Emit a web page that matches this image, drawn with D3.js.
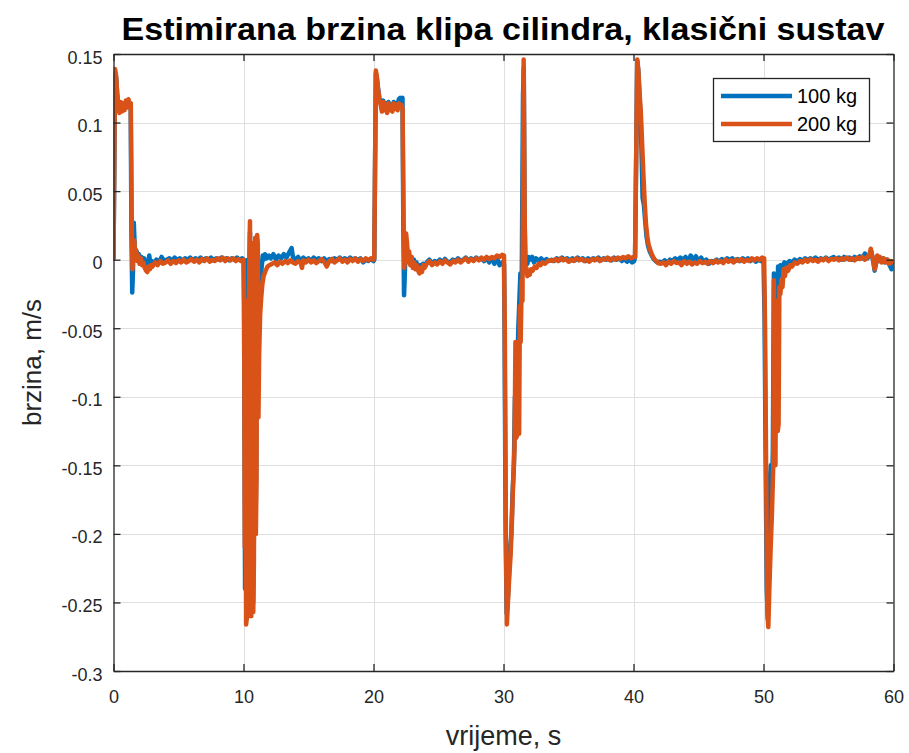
<!DOCTYPE html>
<html>
<head>
<meta charset="utf-8">
<script src="https://cdn.jsdelivr.net/npm/d3@7"></script>
<style>
  html, body { margin: 0; padding: 0; background: #ffffff; }
  svg { display: block; }
  text { font-family: "Liberation Sans", Arial, Helvetica, sans-serif; }
</style>
</head>
<body>
<svg id="chart" width="909" height="753"></svg>
<script>
// ---------------- data ----------------
const titleText = "Estimirana brzina klipa cilindra, klasični sustav";
const xLabelText = "vrijeme, s";
const yLabelText = "brzina, m/s";
const seriesNames = ["100 kg", "200 kg"];
const xTicks = [0, 10, 20, 30, 40, 50, 60];
const xTickLabels = ["0", "10", "20", "30", "40", "50", "60"];
const yTicks = [-0.3, -0.25, -0.2, -0.15, -0.1, -0.05, 0, 0.05, 0.1, 0.15];
const yTickLabels = ["-0.3", "-0.25", "-0.2", "-0.15", "-0.1", "-0.05", "0", "0.05", "0.1", "0.15"];

// [time s, speed m/s] — 100 kg
const speed100 = [
[0,0.001],[0.06,0.065],[0.12,0.135],[0.2,0.133],[0.28,0.121],[0.36,0.113],[0.45,0.109],[0.55,0.113],[0.65,0.11],[0.75,0.113],[0.85,0.11],[0.95,0.114],[1.05,0.112],[1.15,0.116],[1.25,0.113],[1.32,0.114],[1.38,0.02],[1.44,-0.024],[1.5,-0.008],[1.56,0.027],[1.63,0.01],[1.7,0.004],[1.78,0.006],[1.86,0.001],[1.95,0.004],[2.05,0.0],[2.15,0.002],[2.25,-0.002],[2.35,0.001],[2.45,-0.003],[2.55,-0.005],[2.65,-0.003],[2.75,0.003],[2.85,-0.004],[2.95,-0.001],
[3.1,-0.003],[3.3,0.0],[3.5,-0.002],[3.7,0.002],[3.9,-0.001],[4.1,0.0],[4.3,0.001],[4.5,-0.001],[4.7,0.0015],[4.9,-0.0005],[5.1,0.001],[5.3,-0.001],[5.5,0.001],[5.7,0.0],[5.9,0.0015],[6.1,-0.0005],[6.3,0.001],[6.5,0.0],[6.7,0.0015],[6.9,-0.0005],[7.1,0.001],[7.3,0.0],[7.5,0.0015],[7.7,-0.0005],[7.9,0.001],[8.1,0.0],[8.3,0.0015],[8.5,0.0],[8.7,0.001],[8.9,-0.0005],[9.1,0.001],[9.3,0.0],[9.5,0.0015],[9.7,0.0],[9.9,0.001],
[10.02,0.0],[10.07,-0.1],[10.12,-0.24],[10.18,-0.03],[10.22,-0.262],[10.28,-0.2],[10.33,0.0],[10.38,-0.26],[10.44,-0.1],[10.5,0.02],[10.56,-0.255],[10.62,-0.25],[10.68,0.005],[10.74,-0.25],[10.8,-0.2],[10.86,0.005],[10.92,-0.2],[10.98,-0.15],[11.04,0.01],[11.1,-0.09],[11.16,-0.06],[11.24,-0.035],[11.32,-0.015],[11.4,-0.005],[11.48,0.003],[11.56,0.0],[11.65,0.004],[11.8,0.001],[11.95,0.003],
[12.1,0.001],[12.3,0.004],[12.5,0.0],[12.7,0.003],[12.9,0.001],[13.1,0.004],[13.3,0.0015],[13.5,0.005],[13.7,0.0085],[13.8,0.002],[14.0,0.0],[14.2,0.002],[14.4,-0.001],[14.6,0.0015],[14.8,-0.0005],[15.0,0.001],[15.2,-0.001],[15.4,0.0015],[15.6,0.0],[15.8,0.001],[16.0,-0.001],[16.2,0.001],[16.4,-0.0015],[16.6,0.0005],[16.8,-0.001],[17.0,0.001],[17.2,-0.0005],[17.4,0.0015],[17.6,0.0],[17.8,0.001],[18.0,-0.0005],[18.2,0.0015],[18.4,0.0],[18.6,0.001],[18.8,-0.0005],[19.0,0.001],[19.2,-0.002],[19.4,0.0],[19.6,-0.001],[19.8,0.0005],[20.0,-0.001],
[20.06,0.0],[20.12,0.068],[20.18,0.136],[20.25,0.133],[20.35,0.125],[20.45,0.118],[20.55,0.115],[20.65,0.11],[20.75,0.116],[20.85,0.111],[20.95,0.114],[21.05,0.109],[21.15,0.115],[21.25,0.111],[21.35,0.113],[21.45,0.11],[21.55,0.115],[21.65,0.112],[21.75,0.114],[21.85,0.113],[21.95,0.117],[22.05,0.118],[22.15,0.116],[22.23,0.118],[22.29,0.03],[22.35,-0.026],[22.41,-0.01],[22.48,0.012],[22.56,0.01],[22.64,0.0],[22.72,0.004],[22.81,-0.003],[22.91,0.002],[23.01,-0.004],[23.11,0.0],[23.21,-0.005],[23.31,-0.002],[23.41,-0.006],[23.51,-0.007],[23.61,-0.004],[23.71,-0.007],[23.81,-0.003],[23.91,-0.004],
[24.1,-0.002],[24.3,0.0],[24.5,-0.003],[24.7,-0.001],[24.9,-0.002],[25.1,0.0],[25.3,-0.002],[25.5,0.0005],[25.7,-0.0015],[25.9,-0.002],[26.1,0.0],[26.3,-0.001],[26.5,0.001],[26.7,-0.001],[26.9,0.0],[27.1,0.0015],[27.3,-0.001],[27.5,0.001],[27.7,-0.0005],[27.9,0.0015],[28.1,0.0],[28.3,0.001],[28.5,-0.001],[28.7,0.0015],[28.9,-0.002],[29.1,0.001],[29.3,-0.003],[29.5,0.001],[29.7,-0.004],[29.9,-0.002],[30.04,-0.003],
[30.08,-0.05],[30.16,-0.19],[30.24,-0.258],[30.32,-0.25],[30.42,-0.23],[30.52,-0.21],[30.6,-0.2],[30.7,-0.17],[30.8,-0.15],[30.88,-0.1],[30.96,-0.125],[31.05,-0.09],[31.14,-0.05],[31.22,-0.03],[31.3,-0.01],[31.4,-0.02],[31.5,0.12],[31.56,0.14],[31.62,0.03],[31.68,0.002],[31.76,0.002],[31.84,-0.003],[31.92,0.002],[32.05,0.0],[32.2,0.002],[32.35,-0.002],[32.5,0.001],[32.7,-0.001],[32.9,0.001],[33.1,-0.0015],[33.3,0.0005],[33.5,-0.001],
[33.7,0.0],[33.9,-0.001],[34.1,0.001],[34.3,-0.0005],[34.5,0.0015],[34.7,0.0],[34.9,0.001],[35.1,-0.001],[35.3,0.001],[35.5,-0.0005],[35.7,0.0015],[35.9,0.0],[36.1,0.001],[36.3,-0.001],[36.5,0.001],[36.7,-0.0005],[36.9,0.001],[37.1,0.0],[37.3,0.0015],[37.5,-0.0005],[37.7,0.001],[37.9,0.0],[38.1,0.001],[38.3,-0.0005],[38.5,0.0015],[38.7,0.0],[38.9,0.001],[39.1,-0.001],[39.3,0.0005],[39.5,-0.0015],[39.7,0.0],[39.9,-0.002],[40.05,-0.001],
[40.12,0.002],[40.2,0.07],[40.29,0.145],[40.37,0.138],[40.46,0.12],[40.56,0.1],[40.64,0.07],[40.7,0.045],[40.8,0.04],[40.9,0.028],[41.0,0.017],[41.12,0.01],[41.25,0.006],[41.4,0.003],[41.55,0.0005],[41.7,-0.001],[41.85,-0.002],[42.0,-0.0015],
[42.2,-0.002],[42.4,-0.0005],[42.6,-0.0025],[42.8,0.0],[43.0,-0.001],[43.2,0.001],[43.4,-0.0005],[43.6,0.0015],[43.8,0.0],[44.0,0.002],[44.2,-0.001],[44.4,0.003],[44.6,0.0],[44.8,0.0025],[45.0,-0.001],[45.2,0.0015],[45.4,-0.002],[45.6,0.0],[45.8,-0.003],[46.0,-0.001],[46.2,-0.002],[46.4,0.0],[46.6,-0.0015],[46.8,0.0005],[47.0,-0.001],[47.2,0.001],[47.4,-0.0005],[47.6,0.001],[47.8,-0.001],[48.0,0.0005],[48.2,-0.001],[48.4,0.001],[48.6,-0.0005],[48.8,0.001],[49.0,-0.001],[49.2,0.0005],[49.4,-0.0015],[49.6,0.0],[49.8,-0.001],[50.0,0.0],
[50.08,-0.04],[50.16,-0.14],[50.25,-0.24],[50.33,-0.262],[50.42,-0.22],[50.5,-0.16],[50.56,-0.15],[50.64,-0.17],[50.72,-0.14],[50.8,-0.01],[50.88,-0.1],[50.95,-0.05],[51.05,-0.06],[51.12,-0.005],[51.2,-0.012],[51.3,-0.004],[51.45,-0.006],[51.6,-0.002],[51.8,-0.003],[52.0,-0.001],
[52.2,-0.002],[52.4,0.0],[52.6,-0.0015],[52.8,0.0005],[53.0,-0.001],[53.2,0.001],[53.4,-0.0005],[53.6,0.001],[53.8,0.0],[54.0,0.0015],[54.2,-0.0005],[54.4,0.001],[54.6,0.0],[54.8,0.0015],[55.0,0.0],[55.2,0.001],[55.4,0.002],[55.6,0.0005],[55.8,0.0015],[56.0,0.0],[56.2,0.002],[56.4,0.0005],[56.6,0.0015],[56.8,0.0],[57.0,0.002],[57.2,0.0005],[57.4,0.0025],[57.6,0.001],[57.8,0.0045],[58.0,0.001],[58.15,0.003],[58.3,0.006],[58.45,-0.002],[58.55,-0.008],[58.65,-0.003],[58.8,0.002],[58.95,-0.001],[59.1,0.001],[59.3,-0.002],[59.5,0.0],[59.7,-0.004],[59.85,-0.007],[60.0,-0.004]
];

// [time s, speed m/s] — 200 kg
const speed200 = [
[0,0.001],[0.06,0.07],[0.12,0.139],[0.2,0.134],[0.28,0.122],[0.36,0.112],[0.45,0.107],[0.55,0.115],[0.65,0.108],[0.75,0.114],[0.85,0.109],[0.95,0.116],[1.05,0.111],[1.15,0.117],[1.25,0.112],[1.33,0.114],[1.4,0.03],[1.46,-0.007],[1.53,0.006],[1.6,0.014],[1.67,0.003],[1.74,0.007],[1.82,-0.001],[1.9,0.003],[2.0,-0.003],[2.1,0.001],[2.2,-0.004],[2.3,-0.002],[2.4,-0.006],[2.5,-0.008],[2.6,-0.009],[2.7,-0.005],[2.8,-0.007],[2.9,-0.004],
[3.0,-0.005],[3.2,-0.002],[3.4,-0.004],[3.6,-0.001],[3.8,-0.003],[4.0,-0.002],[4.2,-0.0005],[4.4,-0.003],[4.6,-0.001],[4.8,-0.0025],[5.0,-0.0005],[5.2,-0.002],[5.4,0.0],[5.6,-0.002],[5.8,-0.001],[6.0,0.0005],[6.2,-0.0015],[6.4,0.0],[6.6,-0.002],[6.8,0.0005],[7.0,-0.001],[7.2,0.001],[7.4,-0.0015],[7.6,0.0],[7.8,-0.001],[8.0,0.001],[8.2,-0.0005],[8.4,0.0015],[8.6,-0.001],[8.8,0.001],[9.0,-0.0005],[9.2,0.001],[9.4,-0.001],[9.6,0.0005],[9.8,-0.001],
[10.0,0.0],[10.05,-0.03],[10.1,-0.21],[10.15,-0.04],[10.2,-0.266],[10.25,-0.262],[10.3,-0.03],[10.35,-0.25],[10.4,-0.12],[10.45,0.005],[10.5,0.028],[10.55,-0.258],[10.6,-0.26],[10.65,-0.06],[10.7,0.012],[10.75,-0.257],[10.8,-0.22],[10.85,-0.01],[10.9,0.016],[10.95,-0.2],[11.0,-0.16],[11.05,0.018],[11.1,0.012],[11.15,-0.115],[11.2,-0.07],[11.28,-0.04],[11.36,-0.028],[11.45,-0.018],[11.55,-0.012],[11.7,-0.008],[11.85,-0.005],[12.0,-0.004],
[12.2,-0.003],[12.4,-0.002],[12.6,-0.004],[12.8,-0.0015],[13.0,-0.003],[13.2,-0.001],[13.4,-0.0025],[13.6,-0.0005],[13.8,-0.002],[14.0,-0.003],[14.2,-0.001],[14.4,-0.0025],[14.5,-0.006],[14.6,-0.0005],[14.8,-0.002],[15.0,0.0],[15.2,-0.002],[15.4,-0.0005],[15.6,-0.0025],[15.8,-0.001],[16.0,0.0005],[16.2,-0.0015],[16.4,-0.005],[16.6,-0.001],[16.8,0.0005],[17.0,-0.002],[17.2,-0.0005],[17.4,0.001],[17.6,-0.0015],[17.8,0.0],[18.0,-0.002],[18.2,0.0005],[18.4,-0.001],[18.6,0.001],[18.8,-0.0015],[19.0,0.0005],[19.2,-0.001],[19.4,0.001],[19.6,-0.0005],[19.8,0.001],[20.0,0.0],
[20.06,0.001],[20.12,0.07],[20.18,0.138],[20.25,0.134],[20.35,0.124],[20.45,0.117],[20.55,0.113],[20.65,0.108],[20.75,0.115],[20.85,0.109],[20.95,0.113],[21.05,0.107],[21.15,0.114],[21.25,0.109],[21.35,0.112],[21.45,0.108],[21.55,0.114],[21.65,0.11],[21.75,0.113],[21.85,0.109],[21.95,0.114],[22.05,0.111],[22.15,0.113],[22.24,0.11],[22.31,0.03],[22.37,-0.006],[22.44,0.008],[22.51,0.019],[22.58,0.012],[22.66,-0.002],[22.74,0.006],[22.83,-0.004],[22.93,0.002],[23.03,-0.006],[23.13,-0.002],[23.23,-0.007],[23.33,-0.004],[23.43,-0.008],[23.53,-0.01],[23.63,-0.006],[23.73,-0.009],[23.83,-0.004],[23.93,-0.006],
[24.1,-0.003],[24.3,-0.001],[24.5,-0.004],[24.7,-0.002],[24.9,-0.0035],[25.1,-0.001],[25.3,-0.003],[25.5,-0.0005],[25.7,-0.002],[25.9,-0.0035],[26.1,-0.001],[26.3,-0.002],[26.5,0.0],[26.7,-0.002],[26.9,-0.0005],[27.1,0.001],[27.3,-0.0015],[27.5,0.0005],[27.7,-0.001],[27.9,0.001],[28.1,-0.0005],[28.3,0.0015],[28.5,0.0],[28.7,0.002],[28.9,0.0005],[29.1,0.002],[29.3,0.001],[29.5,0.003],[29.7,0.002],[29.9,0.0035],[30.04,0.003],
[30.1,-0.05],[30.18,-0.2],[30.26,-0.266],[30.34,-0.25],[30.45,-0.23],[30.55,-0.215],[30.65,-0.19],[30.75,-0.16],[30.85,-0.137],[30.92,-0.06],[30.98,-0.13],[31.05,-0.128],[31.12,-0.06],[31.2,-0.127],[31.26,-0.034],[31.32,-0.06],[31.4,-0.015],[31.46,-0.03],[31.55,0.146],[31.62,0.04],[31.68,-0.009],[31.76,-0.006],[31.84,-0.012],[31.93,-0.009],[32.02,-0.011],[32.12,-0.007],[32.25,-0.008],[32.4,-0.005],[32.55,-0.006],[32.7,-0.003],[32.85,-0.004],[33.0,-0.002],[33.2,-0.003],[33.4,-0.001],[33.6,-0.0005],
[33.8,-0.001],[34.0,0.0005],[34.2,-0.001],[34.4,0.001],[34.6,-0.0005],[34.8,0.0005],[35.0,-0.0015],[35.2,0.0],[35.4,-0.001],[35.6,0.001],[35.8,-0.0005],[36.0,0.0005],[36.2,-0.001],[36.4,0.0],[36.6,-0.0015],[36.8,0.0005],[37.0,-0.0005],[37.2,0.001],[37.4,-0.001],[37.6,0.0005],[37.8,0.0],[38.0,0.0015],[38.2,-0.0005],[38.4,0.001],[38.6,0.0],[38.8,0.0015],[39.0,0.0005],[39.2,0.002],[39.4,0.001],[39.6,0.0025],[39.8,0.001],[40.0,0.002],
[40.12,0.002],[40.2,0.07],[40.29,0.146],[40.37,0.138],[40.46,0.122],[40.56,0.108],[40.66,0.085],[40.76,0.062],[40.86,0.042],[40.96,0.026],[41.06,0.017],[41.16,0.011],[41.26,0.008],[41.36,0.005],[41.46,0.003],[41.6,0.0005],[41.75,-0.001],[41.9,-0.0025],
[42.1,-0.003],[42.3,-0.002],[42.5,-0.004],[42.7,-0.0015],[42.9,-0.003],[43.1,-0.001],[43.3,-0.0025],[43.5,-0.002],[43.7,-0.004],[43.9,-0.001],[44.1,-0.003],[44.3,-0.0015],[44.5,-0.0035],[44.7,-0.002],[44.9,-0.003],[45.1,-0.001],[45.3,-0.0025],[45.5,-0.0015],[45.7,-0.003],[45.9,-0.001],[46.1,-0.0025],[46.3,-0.0005],[46.5,-0.002],[46.7,-0.001],[46.9,-0.0025],[47.1,0.0],[47.3,-0.0015],[47.5,-0.0005],[47.7,-0.002],[47.9,0.0],[48.1,-0.001],[48.3,0.0005],[48.5,-0.0015],[48.7,0.0],[48.9,-0.001],[49.1,0.001],[49.3,-0.0005],[49.5,0.001],[49.7,0.0],[49.9,0.0015],[50.05,0.001],
[50.12,-0.05],[50.2,-0.15],[50.29,-0.255],[50.37,-0.268],[50.45,-0.24],[50.55,-0.21],[50.65,-0.185],[50.75,-0.15],[50.8,-0.015],[50.86,-0.14],[50.92,-0.15],[50.98,-0.03],[51.04,-0.1],[51.1,-0.125],[51.16,-0.12],[51.22,-0.02],[51.3,-0.025],[51.38,-0.015],[51.46,-0.02],[51.55,-0.007],[51.65,-0.012],[51.75,-0.006],[51.9,-0.008],[52.05,-0.004],[52.2,-0.005],[52.4,-0.002],
[52.6,-0.003],[52.8,-0.001],[53.0,-0.002],[53.2,0.0],[53.4,-0.0015],[53.6,0.0005],[53.8,-0.001],[54.0,0.0],[54.2,-0.0015],[54.4,0.0005],[54.6,-0.0005],[54.8,0.001],[55.0,-0.001],[55.2,0.0005],[55.4,0.0],[55.6,0.001],[55.8,-0.0005],[56.0,0.001],[56.2,0.0],[56.4,0.0015],[56.6,0.0],[56.8,0.001],[57.0,-0.0005],[57.2,0.0015],[57.4,0.0005],[57.6,0.002],[57.8,0.0],[58.0,0.002],[58.15,0.004],[58.25,0.008],[58.35,0.003],[58.45,-0.001],[58.55,-0.007],[58.65,-0.002],[58.75,0.003],[58.85,-0.001],[58.95,0.002],[59.1,-0.002],[59.25,0.001],[59.4,-0.002],[59.55,0.0],[59.7,-0.003],[59.85,-0.001],[60.0,-0.002]
];

const seriesColors = ["#0072BD", "#D95319"];

// ---------------- drawing ----------------
const svg = d3.select("#chart");
const plot = { left: 113.5, right: 893.5, top: 54, bottom: 671 };
const axisColor = "#262626";

const x = d3.scaleLinear().domain([0, 60]).range([plot.left, plot.right]);
const y = d3.scaleLinear().domain([-0.3, 0.15]).range([plot.bottom, plot.top]);

svg.append("rect").attr("x", 0).attr("y", 0).attr("width", 909).attr("height", 753).attr("fill", "#ffffff");

// grid
const grid = svg.append("g").attr("stroke", "#dfdfdf").attr("stroke-width", 1);
grid.selectAll("line.gx").data(xTicks.slice(1, -1)).join("line")
  .attr("x1", d => Math.round(x(d)) + 0.5).attr("x2", d => Math.round(x(d)) + 0.5)
  .attr("y1", plot.top).attr("y2", plot.bottom);
grid.selectAll("line.gy").data(yTicks.slice(1, -1)).join("line")
  .attr("y1", d => Math.round(y(d)) + 0.5).attr("y2", d => Math.round(y(d)) + 0.5)
  .attr("x1", plot.left).attr("x2", plot.right);

// clip
svg.append("clipPath").attr("id", "clip").append("rect")
  .attr("x", plot.left).attr("y", plot.top)
  .attr("width", plot.right - plot.left).attr("height", plot.bottom - plot.top);

const line = d3.line().x(d => x(d[0])).y(d => y(d[1]));
const lines = svg.append("g").attr("clip-path", "url(#clip)");
[speed100, speed200].forEach((s, i) => {
  lines.append("path").datum(s)
    .attr("fill", "none").attr("stroke", seriesColors[i])
    .attr("stroke-width", 4.5).attr("stroke-linejoin", "round").attr("stroke-linecap", "round")
    .attr("d", line);
});

// axes (MATLAB style box, ticks inside)
const axB = d3.axisBottom(x).tickValues(xTicks).tickFormat((d, i) => xTickLabels[i]).tickSizeInner(-7).tickSizeOuter(0).tickPadding(19);
const axT = d3.axisTop(x).tickValues(xTicks).tickFormat("").tickSizeInner(-7).tickSizeOuter(0);
const axL = d3.axisLeft(y).tickValues(yTicks).tickFormat((d, i) => yTickLabels[i]).tickSizeInner(-7).tickSizeOuter(0).tickPadding(11);
const axR = d3.axisRight(y).tickValues(yTicks).tickFormat("").tickSizeInner(-7).tickSizeOuter(0);

function styleAxis(g) {
  g.select(".domain").attr("stroke", axisColor).attr("stroke-width", 1.3);
  g.selectAll(".tick line").attr("stroke", axisColor).attr("stroke-width", 1.3);
  g.selectAll(".tick text").attr("fill", axisColor).attr("font-size", 18)
    .attr("font-family", "'Liberation Sans', Arial, Helvetica, sans-serif");
}
svg.append("g").attr("transform", `translate(0,${plot.bottom})`).call(axB).call(styleAxis);
svg.append("g").attr("transform", `translate(0,${plot.top})`).call(axT).call(styleAxis);
const gL = svg.append("g").attr("transform", `translate(${plot.left},0)`).call(axL).call(styleAxis);
gL.selectAll(".tick text").attr("dy", "0.5em");
svg.append("g").attr("transform", `translate(${plot.right},0)`).call(axR).call(styleAxis);

// labels
svg.append("text").attr("x", (plot.left + plot.right) / 2 - 0.5).attr("y", 40)
  .attr("text-anchor", "middle").attr("font-size", 32).attr("font-weight", "bold").attr("fill", "#000")
  .attr("textLength", 763).attr("lengthAdjust", "spacingAndGlyphs")
  .text(titleText);
svg.append("text").attr("x", (plot.left + plot.right) / 2).attr("y", 745)
  .attr("text-anchor", "middle").attr("font-size", 27).attr("fill", axisColor)
  .text(xLabelText);
svg.append("text").attr("transform", `translate(41,${(plot.top + plot.bottom) / 2}) rotate(-90)`)
  .attr("text-anchor", "middle").attr("font-size", 26).attr("fill", axisColor)
  .text(yLabelText);

// legend
const lg = svg.append("g");
lg.append("rect").attr("x", 713.5).attr("y", 78.5).attr("width", 156).attr("height", 63)
  .attr("fill", "#ffffff").attr("stroke", axisColor).attr("stroke-width", 1.3);
const legY = [96, 124];
seriesNames.forEach((n, i) => {
  lg.append("line").attr("x1", 721).attr("x2", 792).attr("y1", legY[i]).attr("y2", legY[i])
    .attr("stroke", seriesColors[i]).attr("stroke-width", 4.5);
  lg.append("text").attr("x", 797).attr("y", legY[i] + 7).attr("font-size", 20).attr("fill", "#000")
    .text(n);
});
</script>
</body>
</html>
